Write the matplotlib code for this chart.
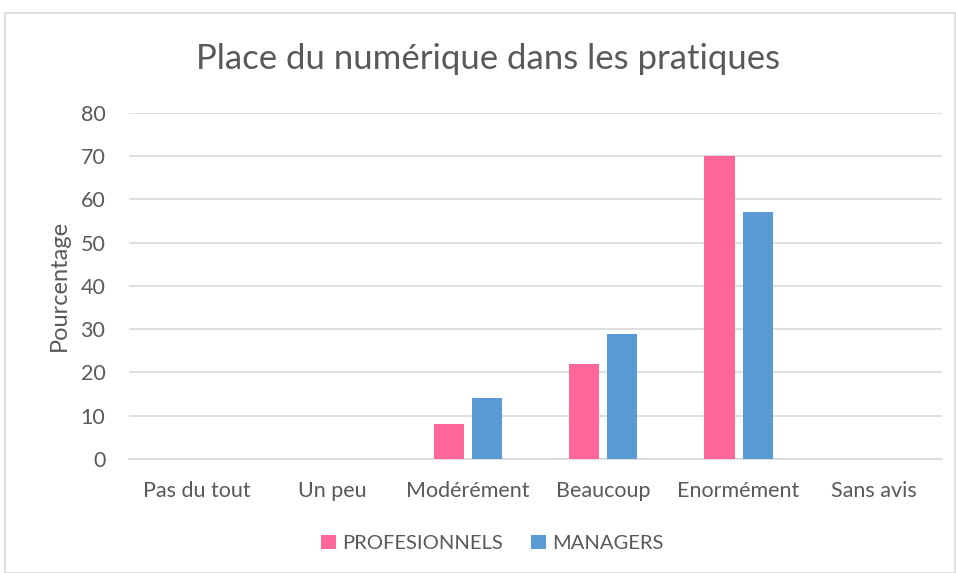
import matplotlib
matplotlib.use("Agg")
import matplotlib.pyplot as plt
import numpy as np
from matplotlib.patches import Rectangle

categories = ["Pas du tout", "Un peu", "Modérément", "Beaucoup", "Enormément", "Sans avis"]
profesionnels = [0, 0, 8, 22, 70, 0]
managers = [0, 0, 14, 29, 57, 0]
yticks = [0, 10, 20, 30, 40, 50, 60, 70, 80]

plt.rcParams['font.family'] = ['Lato', 'DejaVu Sans']
text_color = '#595959'
pink = '#FF6699'
blue = '#5B9BD5'
grid = '#D9D9D9'

fig = plt.figure(figsize=(9.56, 5.73), dpi=100)
ax = fig.add_axes([0.135, 0.199, 0.85, 0.604])

x = np.arange(len(categories))
w = 0.222
gap = 0.059
ax.bar(x - (w + gap) / 2, profesionnels, w, color=pink, label='PROFESIONNELS', zorder=3)
ax.bar(x + (w + gap) / 2, managers, w, color=blue, label='MANAGERS', zorder=3)

ax.set_xlim(-0.5, len(categories) - 0.5)
ax.set_ylim(0, 80)
ax.set_yticks(yticks)
ax.set_xticks(x)
ax.set_xticklabels(categories)
ax.yaxis.grid(True, color=grid, linewidth=1.2, zorder=0)
ax.tick_params(axis='both', length=0, labelsize=15.5, colors=text_color)
ax.tick_params(axis='x', pad=16)
ax.tick_params(axis='y', pad=17)
for s in ['top', 'right', 'left']:
    ax.spines[s].set_visible(False)
ax.spines['bottom'].set_color(grid)
ax.spines['bottom'].set_linewidth(1.2)

ax.set_ylabel('Pourcentage', fontsize=17, color=text_color, labelpad=8)
fig.text(0.511, 0.897, 'Place du numérique dans les pratiques', ha='center', va='center',
         fontsize=25, color=text_color)

leg = fig.legend(loc='center', bbox_to_anchor=(0.515, 0.052), ncol=2, frameon=False,
                 fontsize=14.5, handlelength=0.75, handleheight=0.75, handletextpad=0.3,
                 columnspacing=1.4, labelcolor=text_color)

fig.patches.append(Rectangle((5 / 956, 0), 950 / 956, 1 - 13 / 573, transform=fig.transFigure,
                             fill=False, edgecolor=grid, linewidth=1.2))

fig.savefig('out.png', dpi=100)
